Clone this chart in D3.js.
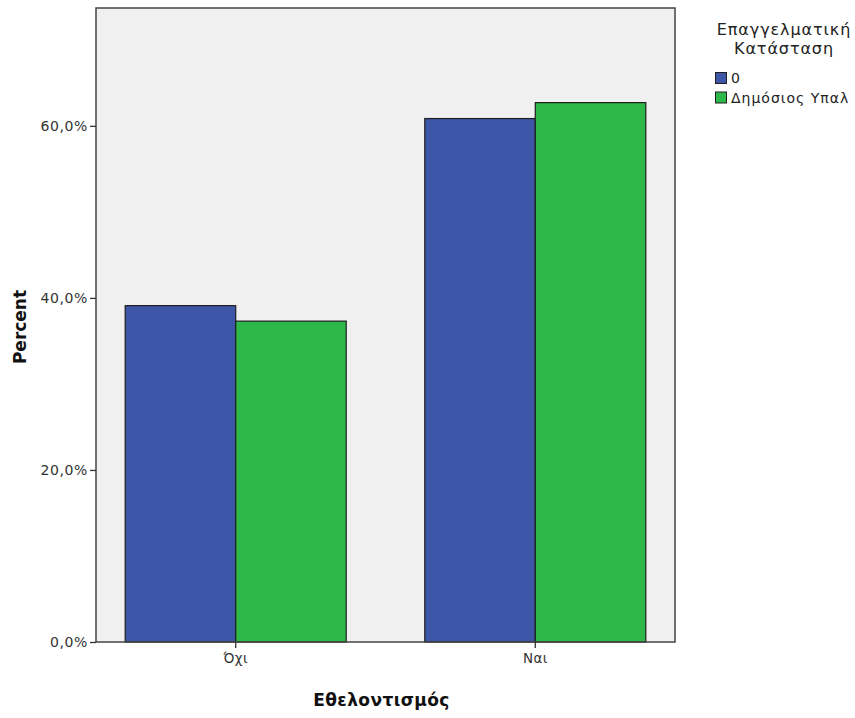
<!DOCTYPE html>
<html><head><meta charset="utf-8">
<script src="https://cdn.jsdelivr.net/npm/d3@7"></script>
<style>body{margin:0;background:#fff}</style>
</head><body>
<svg id="c" width="855" height="718"></svg>
<script>
const categories = ["Όχι", "Ναι"];
const seriesNames = ["0", "Δημόσιος Υπαλ"];
const values0 = [39.1, 60.85];
const valuesDY = [37.3, 62.7];
const yTicks = [0, 20, 40, 60];
const colors = ["#3e56a8", "#2fb84a"];

const FONT = "'DejaVu Sans', Verdana, sans-serif";
const svg = d3.select("#c");
const L = 96, R = 675, T = 8, B = 642;
const x = d3.scaleBand().domain(categories).range([L, R]).paddingInner(0.2623).paddingOuter(0.0975);
const xs = d3.scaleBand().domain(seriesNames).range([0, x.bandwidth()]);
const y = d3.scaleLinear().domain([0, 73.7]).range([B, T]);

svg.append("rect").attr("x", L).attr("y", T).attr("width", R - L).attr("height", B - T).attr("fill", "#f0f0f0");

const series = [values0, valuesDY];
categories.forEach((c, i) => {
  series.forEach((vals, j) => {
    svg.append("rect")
      .attr("x", x(c) + xs(seriesNames[j]))
      .attr("y", y(vals[i]))
      .attr("width", xs.bandwidth())
      .attr("height", B - y(vals[i]))
      .attr("fill", colors[j])
      .attr("stroke", "#1e1e1e").attr("stroke-width", 1.2);
  });
});

svg.append("rect").attr("x", L).attr("y", T).attr("width", R - L).attr("height", B - T)
  .attr("fill", "none").attr("stroke", "#444").attr("stroke-width", 1.5);

const fmt = d => d.toFixed(1).replace(".", ",") + "%";
const ya = svg.append("g").attr("transform", `translate(${L},0)`)
  .call(d3.axisLeft(y).tickValues(yTicks).tickFormat(fmt).tickSize(6).tickPadding(2));
ya.select(".domain").remove();
ya.selectAll("line").attr("stroke", "#333").attr("stroke-width", 1.3);
ya.selectAll("text").attr("font-family", FONT).attr("font-size", 14).attr("letter-spacing", 0.6).attr("fill", "#333");

const xa = svg.append("g").attr("transform", `translate(0,${B})`)
  .call(d3.axisBottom(x).tickSize(6).tickPadding(5));
xa.select(".domain").remove();
xa.selectAll("line").attr("stroke", "#333").attr("stroke-width", 1.3);
xa.selectAll("text").attr("font-family", FONT).attr("font-size", 13.5).attr("letter-spacing", 0.4).attr("fill", "#333");

svg.append("text").attr("x", (L + R) / 2 - 4).attr("y", 706).attr("text-anchor", "middle")
  .attr("font-family", FONT).attr("font-weight", "bold").attr("font-size", 17)
  .attr("letter-spacing", 0.4).attr("fill", "#111").text("Εθελοντισμός");
svg.append("text").attr("transform", `translate(26,${(T + B) / 2 + 2}) rotate(-90)`).attr("text-anchor", "middle")
  .attr("font-family", FONT).attr("font-weight", "bold").attr("font-size", 17)
  .attr("fill", "#111").text("Percent");

const lg = svg.append("g");
lg.append("text").attr("x", 784).attr("y", 35).attr("text-anchor", "middle")
  .attr("font-family", FONT).attr("font-size", 16).attr("letter-spacing", 0.9).attr("fill", "#222").text("Επαγγελματική");
lg.append("text").attr("x", 784).attr("y", 54).attr("text-anchor", "middle")
  .attr("font-family", FONT).attr("font-size", 16).attr("letter-spacing", 0.9).attr("fill", "#222").text("Κατάσταση");
seriesNames.forEach((s, j) => {
  lg.append("rect").attr("x", 715.5).attr("y", 72.5 + j * 19.5).attr("width", 11).attr("height", 11)
    .attr("fill", colors[j]).attr("stroke", "#1e1e1e").attr("stroke-width", 1);
  lg.append("text").attr("x", 731).attr("y", 83 + j * 19.5)
    .attr("font-family", FONT).attr("font-size", 14).attr("letter-spacing", 1).attr("fill", "#222").text(s);
});
</script>
</body></html>
